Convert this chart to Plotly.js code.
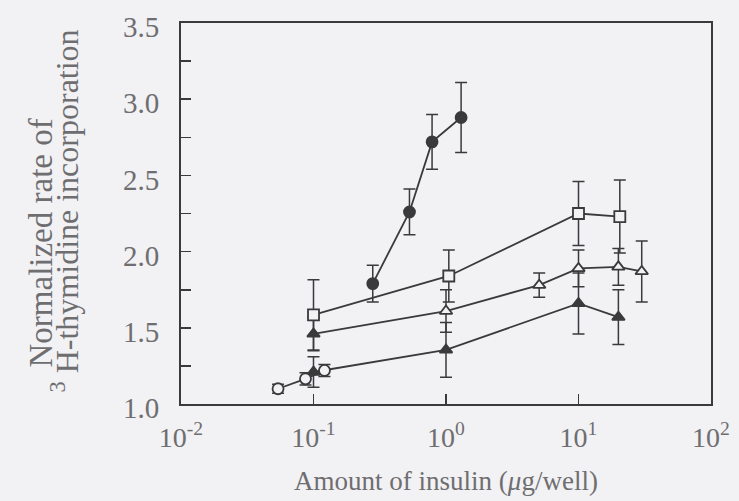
<!DOCTYPE html>
<html><head><meta charset="utf-8">
<script src="https://cdn.plot.ly/plotly-3.0.1.min.js"></script>
<style>html,body{margin:0;padding:0;background:#f2f1f4;}</style>
</head><body><div id="chart" style="width:739px;height:501px;"></div>
<script>
// Filled circles
const circFilledX = [0.28, 0.53, 0.785, 1.3];
const circFilledY = [1.79, 2.26, 2.72, 2.88];
const circFilledErr = [0.12, 0.15, 0.18, 0.23];
// Open squares
const squareX = [0.1, 1.05, 10, 20.5];
const squareY = [1.585, 1.84, 2.25, 2.23];
const squareErr = [0.23, 0.17, 0.21, 0.24];
// Open triangles (first point drawn filled)
const triOpenX = [0.1, 1.0, 5.05, 10, 20, 30];
const triOpenY = [1.46, 1.61, 1.78, 1.89, 1.90, 1.87];
const triOpenErr = [0.11, 0.14, 0.08, 0.12, 0.12, 0.2];
// Filled triangles
const triFilledX = [0.1, 1.0, 10, 20];
const triFilledY = [1.21, 1.355, 1.66, 1.57];
const triFilledErr = [0.1, 0.18, 0.2, 0.18];
// Open circles
const circOpenX = [0.054, 0.087, 0.121];
const circOpenY = [1.10, 1.165, 1.22];
const circOpenErr = [0.03, 0.04, 0.04];

const xTickVals = [0.01, 0.1, 1, 10, 100];
const xTickText = ['10<sup>-2</sup>', '10<sup>-1</sup>', '10<sup>0</sup>', '10<sup>1</sup>', '10<sup>2</sup>'];
const yTickVals = [1.0, 1.5, 2.0, 2.5, 3.0, 3.5];
const yTickText = ['1.0', '1.5', '2.0', '2.5', '3.0', '3.5'];
const yTitleLines = ['Normalized rate of', '<sup>3</sup> H-thymidine incorporation'];
const xTitle = 'Amount of insulin (<i>μ</i>g/well)';

const INK = '#3a3a3c';
const BG = '#f2f1f4';
const TXT = '#6e6e70';
const FONT = '"Liberation Serif", "DejaVu Serif", serif';

function err(a){ return {type:'data', array:a, visible:true, color:INK, thickness:1.5, width:6}; }
function tr(x, y, e, symbol, fill){
  return {x:x, y:y, type:'scatter', mode:'lines+markers', error_y:err(e),
    line:{color:INK, width:1.8},
    marker:{symbol:symbol, size:11, color:fill, line:{color:INK, width:1.8}},
    hoverinfo:'skip'};
}
const triOpenFill = triOpenX.map((v,i)=> i===0 ? INK : BG);

const data = [
  tr(triFilledX, triFilledY, triFilledErr, 'triangle-up', INK),
  tr(circOpenX, circOpenY, circOpenErr, 'circle', BG),
  tr(triOpenX, triOpenY, triOpenErr, 'triangle-up', triOpenFill),
  tr(squareX, squareY, squareErr, 'square', BG),
  tr(circFilledX, circFilledY, circFilledErr, 'circle', INK)
];

const layout = {
  width:739, height:501,
  margin:{l:181, r:28, t:23, b:97},
  paper_bgcolor:BG, plot_bgcolor:BG,
  showlegend:false,
  font:{family:FONT, color:TXT, size:26},
  xaxis:{type:'log', range:[-2,2], tickvals:xTickVals, ticktext:xTickText,
    ticks:'inside', ticklen:10, tickwidth:1.6, tickcolor:INK,
    showline:true, linecolor:INK, linewidth:2, mirror:true,
    showgrid:false, zeroline:false, ticklabelstandoff:7,
    tickfont:{size:28, color:TXT},
    title:{text:xTitle, font:{size:27, color:TXT}, standoff:20}},
  yaxis:{range:[1,3.5], tickvals:yTickVals, ticktext:yTickText,
    ticks:'inside', ticklen:10, tickwidth:1.6, tickcolor:INK,
    minor:{dtick:0.25, ticks:'inside', ticklen:10, tickwidth:1.6, tickcolor:INK, showgrid:false},
    showline:true, linecolor:INK, linewidth:2, mirror:true,
    showgrid:false, zeroline:false, ticklabelstandoff:14, ticklabelshift:4,
    tickfont:{size:29, color:TXT}},
  annotations:[
    {text:yTitleLines[0], xref:'paper', yref:'paper', x:0, y:0.5, xanchor:'center', yanchor:'middle',
     textangle:-90, xshift:-141, yshift:-30, showarrow:false, font:{size:33, color:TXT, family:FONT}},
    {text:yTitleLines[1], xref:'paper', yref:'paper', x:0, y:0.5, xanchor:'center', yanchor:'middle',
     textangle:-90, xshift:-117, yshift:2, showarrow:false, font:{size:32, color:TXT, family:FONT}}
  ]
};
Plotly.newPlot('chart', data, layout, {staticPlot:true, displayModeBar:false});
</script></body></html>
